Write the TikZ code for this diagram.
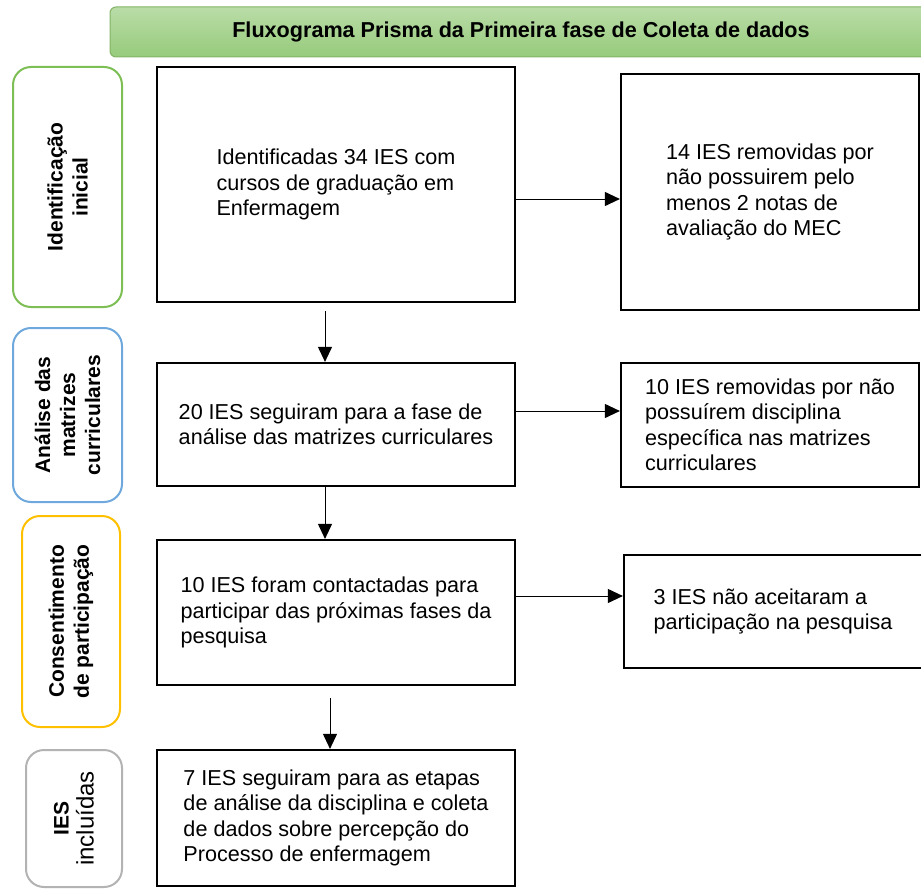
\documentclass[tikz,border=0pt]{standalone}
\usepackage{fontspec}
\setmainfont{Liberation Sans}
\usetikzlibrary{arrows.meta}
\definecolor{headline}{HTML}{82B366}
\definecolor{headtop}{HTML}{BADCA8}
\definecolor{headbot}{HTML}{96CB7B}
\definecolor{phasegreen}{HTML}{7EBF55}
\definecolor{phaseblue}{HTML}{6FA8DC}
\definecolor{phasegold}{HTML}{FFC000}
\definecolor{phasegray}{HTML}{B3B3B3}
\begin{document}
\begin{tikzpicture}[x=1pt,y=-1pt,font=\fontsize{21.6}{25.5}\selectfont,
	box/.style={draw=black,line width=2.2pt,align=left,inner sep=0pt},
	phase/.style={draw,line width=2pt,rounded corners=18pt,align=center,inner sep=0pt,rotate=90,font=\fontsize{21}{25}\selectfont\bfseries},
	flow/.style={-{Triangle[length=15pt,width=14pt]},line width=1pt}]
	\useasboundingbox (0,0) rectangle (921,891); %page
	\clip (0,0) rectangle (921,891);
	
	%title
	\node[draw=headline,line width=1pt,rounded corners=6pt,top color=headtop,bottom color=headbot,minimum width=822pt,minimum height=50pt,font=\fontsize{21.6}{25}\selectfont\bfseries] (head) at (521,32) {Fluxograma Prisma da Primeira fase de Coleta de dados}; %title bar
	
	%phases-----------------------------------------------
	\node[phase,draw=phasegreen,minimum width=240pt,minimum height=109pt] (ident) at (67.5,187) {Identificação\\inicial}; %phase 1
	\node[phase,draw=phaseblue,minimum width=174pt,minimum height=109pt] (analise) at (67.5,415) {Análise das\\matrizes\\curriculares}; %phase 2
	\node[phase,draw=phasegold,minimum width=211pt,minimum height=98pt] (consent) at (71,621.5) {Consentimento\\de participação}; %phase 3
	\node[phase,draw=phasegray,minimum width=137pt,minimum height=96pt] (incl) at (74,818.5) {IES\\{\fontsize{24}{26}\selectfont\mdseries incluídas}}; %phase 4
	
	%main column------------------------------------------
	\node[box,minimum width=358pt,minimum height=235pt] (found) at (336,184.5) {Identificadas 34 IES com\\cursos de graduação em\\Enfermagem}; %box 1
	\node[box,minimum width=358pt,minimum height=123pt] (matrix) at (336,424.5) {20 IES seguiram para a fase de\\análise das matrizes curriculares}; %box 2
	\node[box,minimum width=358pt,minimum height=145pt] (contact) at (336,612.5) {10 IES foram contactadas para\\participar das próximas fases da\\pesquisa}; %box 3
	\node[box,minimum width=358pt,minimum height=136pt] (kept) at (336,818) {7 IES seguiram para as etapas\\de análise da disciplina e coleta\\de dados sobre percepção do\\Processo de enfermagem}; %box 4
	
	%removed column---------------------------------------
	\node[box,minimum width=298pt,minimum height=236pt] (outmec) at (770,192) {14 IES removidas por\\não possuirem pelo\\menos 2 notas de\\avaliação do MEC}; %removed 1
	\node[box,minimum width=298pt,minimum height=124pt] (outdisc) at (770,425) {10 IES removidas por não\\possuírem disciplina\\específica nas matrizes\\curriculares}; %removed 2
	\node[box,minimum width=298pt,minimum height=113pt] (outrefuse) at (773,611.5) {3 IES não aceitaram a\\participação na pesquisa}; %removed 3
	
	%arrows
	\draw[flow] ([yshift=-7pt]outmec.west -| found.east) -- ([yshift=-7pt]outmec.west); %to removed 1
	\draw[flow] ([yshift=14pt]outdisc.west -| matrix.east) -- ([yshift=14pt]outdisc.west); %to removed 2
	\draw[flow] ([yshift=15.5pt]outrefuse.west -| contact.east) -- ([yshift=15.5pt]outrefuse.west); %to removed 3
	\draw[flow] ([xshift=-11pt,yshift=-8pt]found.south) -- ([xshift=-11pt]matrix.north); %down 1
	\draw[flow] ([xshift=-11pt]matrix.south) -- ([xshift=-11pt]contact.north); %down 2
	\draw[flow] ([xshift=-6pt,yshift=-12pt]contact.south) -- ([xshift=-6pt]kept.north); %down 3
	
\end{tikzpicture}
\end{document}
